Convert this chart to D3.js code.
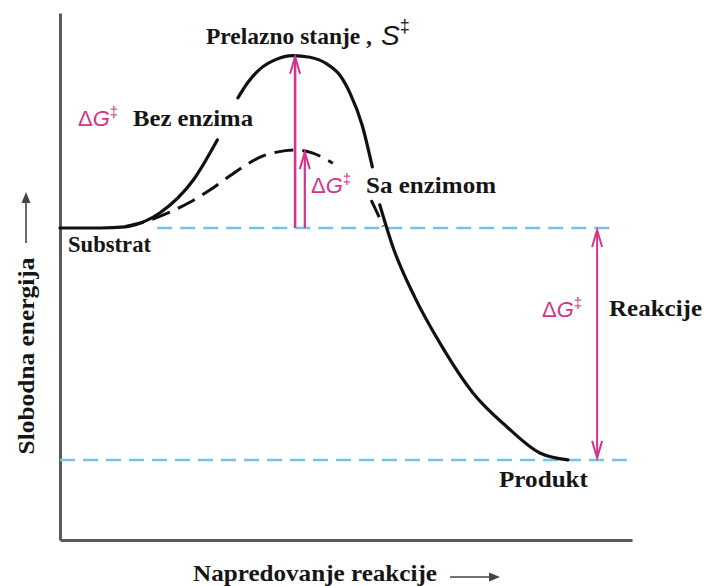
<!DOCTYPE html>
<html><head><meta charset="utf-8">
<script src="https://cdn.jsdelivr.net/npm/d3@7"></script>
<style>html,body{margin:0;padding:0;background:#fff;} svg{display:block}</style>
</head><body><svg id="chart" width="705" height="586"></svg>
<script>
// ---- data (reaction progress 0-100, free energy 0-100) ----
const substrateEnergy = 59.2;
const productEnergy = 15.2;
const uncatalyzedProgress = [0,7,11.4,14.9,17.5,23.3,27.5,null,31.1,32.9,35,37.6,40.7,43.7,46.7,49,50.7,52.8,54.6,null,55.9,58.2,62.1,66.4,72.2,78.2,83.9,88.8];
const uncatalyzedEnergy   = [59.2,59.2,59.4,60.5,62.1,68.3,75.9,null,83.9,86.9,89.4,91.1,91.9,91.6,90.3,88.1,84.8,78.8,70.8,null,63.6,55.6,45.9,37.4,27.9,21.4,16.5,15.2];
const catalyzedProgress = [11.4,15.7,19.2,22.7,26.2,29.7,32.7,35.3,37.9,41.1,44.2,47.7,null,54.4,55.4,56.5];
const catalyzedEnergy   = [59.5,60.7,62.2,64.1,66.4,69.1,71.3,72.8,73.6,74,73.4,71.5,null,64.5,62.2,59.5];
const barrierProgress = [41.1, 42.8];     // without enzyme, with enzyme
const barrierTop = [91.7, 73.6];
const reactionArrowProgress = 93.9;
const levelNames = ["substrate", "product"];
const levelStart = [17, 0];
const levelEnd = [97.4, 99.1];
const labelTexts = ["Prelazno stanje ,", "Bez enzima", "Sa enzimom", "Reakcije", "Substrat", "Produkt"];
const axisTitles = ["Slobodna energija", "Napredovanje reakcije"];

// ---- setup ----
const svg = d3.select("#chart");
const x = d3.scaleLinear().domain([0, 100]).range([60, 632]);
const y = d3.scaleLinear().domain([0, 100]).range([540, 13]);
const PINK = "#d6348c";
const BLUE = "#74c2ea";
const SERIF = "'Liberation Serif','Times New Roman',serif";
const SANS = "'Liberation Sans',Arial,sans-serif";

// axes (no ticks)
svg.append("g").attr("transform", `translate(${x(0)},0)`)
  .call(d3.axisLeft(y).tickValues([]).tickSizeOuter(0));
svg.append("g").attr("transform", `translate(0,${y(0)})`)
  .call(d3.axisBottom(x).tickValues([]).tickSizeOuter(0));
svg.selectAll(".domain").attr("stroke", "#5a5a5a").attr("stroke-width", 3);

// energy level dashed lines
const levelEnergies = [substrateEnergy, productEnergy];
svg.append("g").selectAll("line").data(levelNames).join("line")
  .attr("x1", (d, i) => x(levelStart[i])).attr("x2", (d, i) => x(levelEnd[i]))
  .attr("y1", (d, i) => y(levelEnergies[i])).attr("y2", (d, i) => y(levelEnergies[i]))
  .attr("stroke", BLUE).attr("stroke-width", 2.5).attr("stroke-dasharray", "15,8");

// curves
const toPts = (px, py) => px.map((p, i) => ({p, e: py[i]}));
const line = d3.line().defined(d => d.p != null).x(d => x(d.p)).y(d => y(d.e))
  .curve(d3.curveMonotoneX);
svg.append("path").datum(toPts(uncatalyzedProgress, uncatalyzedEnergy))
  .attr("d", line).attr("fill", "none").attr("stroke", "#111").attr("stroke-width", 3.2)
  .attr("stroke-linecap", "round");
svg.append("path").datum(toPts(catalyzedProgress, catalyzedEnergy))
  .attr("d", line).attr("fill", "none").attr("stroke", "#111").attr("stroke-width", 3)
  .attr("stroke-dasharray", "19,9");

// arrows
function chevron(g, xp, yp, dir, color, w) {
  g.append("path")
    .attr("d", `M${xp-5},${yp - dir*17}L${xp},${yp}L${xp+5},${yp - dir*17}`)
    .attr("fill", "none").attr("stroke", color).attr("stroke-width", w);
}
const ga = svg.append("g");
barrierProgress.forEach((p, i) => {
  const w = i === 0 ? 2.6 : 2.2;
  ga.append("line").attr("x1", x(p)).attr("x2", x(p))
    .attr("y1", y(substrateEnergy)).attr("y2", y(barrierTop[i]))
    .attr("stroke", PINK).attr("stroke-width", w);
  chevron(ga, x(p), y(barrierTop[i]), -1, PINK, 2);
});
ga.append("line").attr("x1", x(reactionArrowProgress)).attr("x2", x(reactionArrowProgress))
  .attr("y1", y(substrateEnergy) + 2).attr("y2", y(productEnergy) - 2)
  .attr("stroke", PINK).attr("stroke-width", 2);
chevron(ga, x(reactionArrowProgress), y(substrateEnergy) + 2, -1, PINK, 2);
chevron(ga, x(reactionArrowProgress), y(productEnergy) - 2, 1, PINK, 2);

// ΔG‡ label helper
function deltaG(xp, yp, size) {
  const t = svg.append("text").attr("x", xp).attr("y", yp)
    .attr("font-family", SANS).attr("font-size", size).attr("fill", PINK);
  t.append("tspan").text("Δ");
  t.append("tspan").attr("font-style", "italic").text("G");
  t.append("tspan").attr("font-size", size * 0.68).attr("dy", -size * 0.42).text("‡");
}
function label(txt, xp, yp, size, len) {
  const t = svg.append("text").attr("x", xp).attr("y", yp)
    .attr("font-family", SERIF).attr("font-weight", "bold").attr("font-size", size)
    .attr("fill", "#161616").text(txt);
  if (len) t.attr("textLength", len).attr("lengthAdjust", "spacingAndGlyphs");
  return t;
}

// top label
label(labelTexts[0], 206, 44, 23, 166);
const s = svg.append("text").attr("x", 381).attr("y", 45)
  .attr("font-family", SANS).attr("font-size", 28).attr("fill", "#161616");
s.append("tspan").attr("font-style", "italic").text("S");
s.append("tspan").attr("font-size", 18).attr("dy", -13).text("‡");

deltaG(78, 126, 22);
label(labelTexts[1], 133, 126, 23, 120);
deltaG(311, 193, 22);
label(labelTexts[2], 366, 193, 23, 130);
deltaG(542, 317, 22);
label(labelTexts[3], 609, 316, 23, 93);
label(labelTexts[4], 68, 252, 23, 83);
label(labelTexts[5], 499, 487, 23, 89);

// axis titles with arrows
svg.append("text").attr("transform", "translate(34,356) rotate(-90)")
  .attr("text-anchor", "middle").attr("font-family", SERIF).attr("font-weight", "bold")
  .attr("font-size", 23).attr("fill", "#161616")
  .attr("textLength", 197).attr("lengthAdjust", "spacingAndGlyphs").text(axisTitles[0]);
svg.append("line").attr("x1", 26).attr("x2", 26).attr("y1", 243).attr("y2", 200)
  .attr("stroke", "#444").attr("stroke-width", 1.6);
svg.append("path").attr("d", "M21.5,203L26,192L30.5,203Z").attr("fill", "#444");

svg.append("text").attr("x", 193).attr("y", 581)
  .attr("font-family", SERIF).attr("font-weight", "bold")
  .attr("font-size", 23).attr("fill", "#161616")
  .attr("textLength", 244).attr("lengthAdjust", "spacingAndGlyphs").text(axisTitles[1]);
svg.append("line").attr("x1", 450).attr("x2", 492).attr("y1", 577).attr("y2", 577)
  .attr("stroke", "#444").attr("stroke-width", 1.6);
svg.append("path").attr("d", "M489,572.5L500,577L489,581.5Z").attr("fill", "#444");
</script></body></html>
